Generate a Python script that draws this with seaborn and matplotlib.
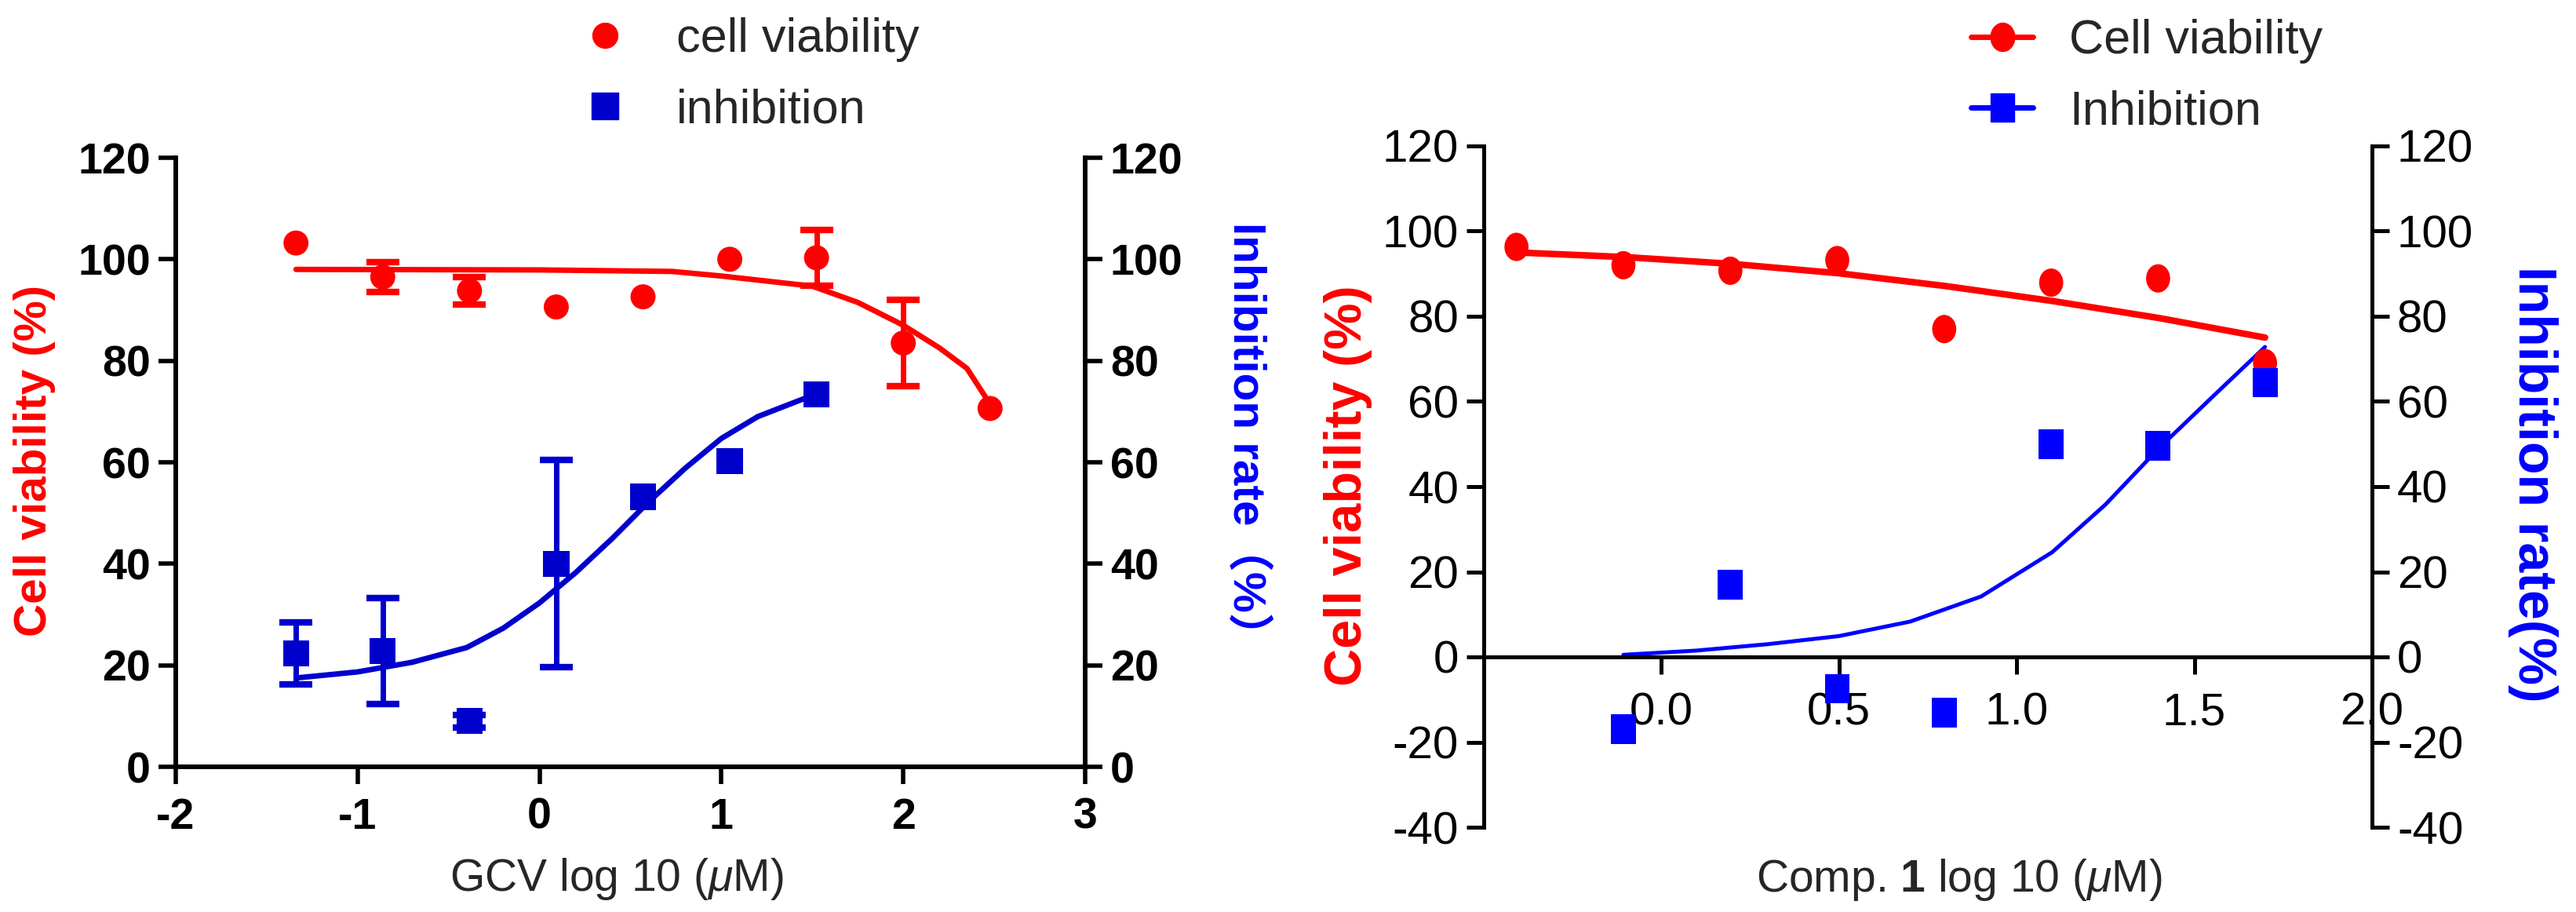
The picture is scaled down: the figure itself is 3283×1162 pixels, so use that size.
import matplotlib
matplotlib.use("Agg")
import matplotlib.pyplot as plt
from matplotlib.lines import Line2D
from matplotlib.markers import MarkerStyle
from matplotlib.transforms import Affine2D
import pandas as pd
import seaborn as sns

# ---- data: GCV panel (log10 uM) ----
gcv_x = [-1.339, -0.862, -0.385, 0.092, 0.569, 1.046, 1.523, 2.0, 2.477]
gcv_viab = [103.2, 96.5, 93.8, 90.6, 92.6, 100.0, 100.3, 83.5, 70.6]
gcv_viab_err = [0.0, 2.9, 2.7, 0.0, 0.0, 0.0, 5.5, 8.5, 0.0]
gcv_inh_x = [-1.339, -0.862, -0.385, 0.092, 0.569, 1.046, 1.523]
gcv_inh = [22.3, 22.8, 9.0, 40.0, 53.2, 60.2, 73.4]
gcv_inh_err = [6.1, 10.4, 1.2, 20.4, 0.0, 0.0, 0.0]

# fitted curves
gcv_viab_fit_x = [-1.339, 0.0, 0.73, 1.0, 1.25, 1.5, 1.75, 2.0, 2.2, 2.35, 2.48]
gcv_viab_fit = [98.0, 97.9, 97.6, 96.7, 95.7, 94.7, 91.5, 87.0, 82.5, 78.5, 71.3]
gcv_inh_fit_x = [-1.339, -1.0, -0.7, -0.4, -0.2, 0.0, 0.2, 0.4, 0.6, 0.8, 1.0, 1.2, 1.523]
gcv_inh_fit = [17.5, 18.7, 20.6, 23.5, 27.3, 32.3, 38.3, 45.0, 52.2, 58.8, 64.7, 69.0, 73.5]

# ---- data: compound 1 panel (log10 uM) ----
c1_x = [-0.408, -0.107, 0.194, 0.495, 0.796, 1.097, 1.398, 1.699]
c1_viab = [96.3, 92.0, 90.7, 93.2, 77.0, 87.9, 88.9, 69.0]
c1_inh_x = [-0.107, 0.194, 0.495, 0.796, 1.097, 1.398, 1.699]
c1_inh = [-17.0, 17.0, -7.5, -13.1, 50.0, 49.6, 64.4]

c1_viab_fit_x = [-0.408, -0.1, 0.2, 0.5, 0.8, 1.1, 1.4, 1.699]
c1_viab_fit = [95.0, 93.9, 92.3, 90.1, 87.1, 83.6, 79.6, 75.0]
c1_inh_fit_x = [-0.107, 0.1, 0.3, 0.5, 0.7, 0.9, 1.1, 1.25, 1.4, 1.55, 1.699]
c1_inh_fit = [0.5, 1.5, 3.0, 4.9, 8.3, 14.2, 24.6, 35.8, 49.0, 61.0, 72.8]

RED = "#ff0000"
BLUE_L = "#0000cc"
BLUE_R = "#0000ff"

sns.set_style("ticks")
plt.rcParams["font.family"] = ["Liberation Sans", "Noto Sans CJK SC", "DejaVu Sans"]
plt.rcParams["axes.unicode_minus"] = False
plt.rcParams["mathtext.fontset"] = "custom"
plt.rcParams["mathtext.rm"] = "Liberation Sans"
plt.rcParams["mathtext.it"] = "Liberation Sans:italic"
plt.rcParams["mathtext.bf"] = "Liberation Sans:bold"

W, H = 3283, 1162
fig = plt.figure(figsize=(W / 100, H / 100), dpi=100)


def frac_box(left, right, top, bottom):
    return [left / W, 1 - bottom / H, (right - left) / W, (bottom - top) / H]


def err_bars(ax, xs, ys, errs, color):
    # only points that carry an error bar in the source
    keep = [i for i, e in enumerate(errs) if e > 0]
    ax.errorbar([xs[i] for i in keep], [ys[i] for i in keep],
                yerr=[errs[i] for i in keep], fmt="none", ecolor=color,
                elinewidth=5, capsize=15, capthick=6, zorder=3)


# ================= left panel =================
ax1 = fig.add_axes(frac_box(224, 1383, 201, 977))
ax1r = ax1.twinx()

df_v = pd.DataFrame({"x": gcv_x, "y": gcv_viab})
df_i = pd.DataFrame({"x": gcv_inh_x, "y": gcv_inh})

err_bars(ax1, gcv_x, gcv_viab, gcv_viab_err, RED)
err_bars(ax1, gcv_inh_x, gcv_inh, gcv_inh_err, BLUE_L)
sns.lineplot(x=gcv_viab_fit_x, y=gcv_viab_fit, ax=ax1, color=RED, linewidth=5,
             sort=False, estimator=None, zorder=4)
sns.lineplot(x=gcv_inh_fit_x, y=gcv_inh_fit, ax=ax1, color=BLUE_L, linewidth=5,
             sort=False, estimator=None, zorder=4)
sns.scatterplot(data=df_v, x="x", y="y", ax=ax1, marker="o", s=23 ** 2,
                color=RED, edgecolor="none", linewidth=0, zorder=5)
sns.scatterplot(data=df_i, x="x", y="y", ax=ax1, marker="s", s=24 ** 2,
                color=BLUE_L, edgecolor="none", linewidth=0, zorder=5)

for a in (ax1, ax1r):
    a.set_ylim(0, 120)
    a.set_yticks(range(0, 121, 20))
    a.set_xlim(-2, 3)
    a.set_xlabel("")
    a.set_ylabel("")
    a.spines["top"].set_visible(False)
    for s in ("left", "right", "bottom"):
        a.spines[s].set_linewidth(4)
        a.spines[s].set_color("black")
    a.tick_params(axis="both", length=16, width=4, direction="out",
                  labelsize=40, colors="black")
    a.tick_params(axis="y", pad=7)
    a.tick_params(axis="x", pad=12)
ax1.set_xticks(range(-2, 4))
for lab in ax1.get_xticklabels() + ax1.get_yticklabels() + ax1r.get_yticklabels():
    lab.set_fontweight("bold")

fig.text(44 / W, 1 - 587 / H, "Cell viability (%)", rotation=90, color=RED,
         fontsize=42, fontweight="bold", ha="center", va="center")
fig.text(1589 / W, 1 - 561 / H, "Inhibition rate（%）", rotation=270, color=BLUE_R,
         fontsize=42, fontweight="bold", ha="center", va="center")
fig.text(786 / W, 1 - 1120 / H, r"GCV log 10 ($\mu$M)", fontsize=41,
         ha="center", va="center")

h_left = [Line2D([], [], marker="o", color=RED, linestyle="none", markersize=23),
          Line2D([], [], marker="s", color=BLUE_L, linestyle="none", markersize=24)]
fig.legend(h_left, ["cell viability", "inhibition"], loc="upper left",
           bbox_to_anchor=(740 / W, 1 - 22 / H), frameon=False, borderpad=0,
           borderaxespad=0, handlelength=1.0, handletextpad=1.0,
           labelspacing=0.55, fontsize=44)

# ================= right panel =================
ax2 = fig.add_axes(frac_box(1891, 3023, 186, 1054))
ax2r = ax2.twinx()

ell = MarkerStyle("o", transform=Affine2D().scale(0.85, 1.0))
tall_sq = MarkerStyle("s", transform=Affine2D().scale(0.85, 1.0))

df_v2 = pd.DataFrame({"x": c1_x, "y": c1_viab})
df_i2 = pd.DataFrame({"x": c1_inh_x, "y": c1_inh})

sns.lineplot(x=c1_viab_fit_x, y=c1_viab_fit, ax=ax2, color=RED, linewidth=6,
             sort=False, estimator=None, zorder=4)
sns.lineplot(x=c1_inh_fit_x, y=c1_inh_fit, ax=ax2, color=BLUE_R, linewidth=3.6,
             sort=False, estimator=None, zorder=4)
sns.scatterplot(data=df_v2, x="x", y="y", ax=ax2, marker=ell, s=26 ** 2,
                color=RED, edgecolor="none", linewidth=0, zorder=5)
sns.scatterplot(data=df_i2, x="x", y="y", ax=ax2, marker=tall_sq, s=27 ** 2,
                color=BLUE_R, edgecolor="none", linewidth=0, zorder=6)

for a in (ax2, ax2r):
    a.set_ylim(-40, 120)
    a.set_yticks(range(-40, 121, 20))
    a.set_xlim(-0.5, 2.0)
    a.set_xlabel("")
    a.set_ylabel("")
    a.spines["top"].set_visible(False)
    a.spines["bottom"].set_position(("data", 0))
    for s in ("left", "right", "bottom"):
        a.spines[s].set_linewidth(3.6)
        a.spines[s].set_color("black")
    a.tick_params(axis="both", length=16, width=3.6, direction="out",
                  labelsize=42, colors="black")
    a.tick_params(axis="y", pad=7)
    a.tick_params(axis="x", pad=16)
ax2.set_xticks([0.0, 0.5, 1.0, 1.5, 2.0])
ax2.set_xticklabels(["0.0", "0.5", "1.0", "1.5", "2.0"])

fig.text(1718 / W, 1 - 619 / H, "Cell viability (%)", rotation=90, color=RED,
         fontsize=48, fontweight="bold", ha="center", va="center")
fig.text(3228 / W, 1 - 617 / H, "Inhibition rate(%)", rotation=270, color=BLUE_R,
         fontsize=49, fontweight="bold", ha="center", va="center")
fig.text(2497 / W, 1 - 1121 / H, r"Comp. $\mathbf{1}$ log 10 ($\mu$M)",
         fontsize=41, ha="center", va="center")

h_right = [Line2D([], [], marker=ell, color=RED, linewidth=5, markersize=26),
           Line2D([], [], marker=tall_sq, color=BLUE_R, linewidth=5, markersize=26)]
fig.legend(h_right, ["Cell viability", "Inhibition"], loc="upper left",
           bbox_to_anchor=(2512 / W, 1 - 24 / H), frameon=False, borderpad=0,
           borderaxespad=0, handlelength=1.3, handletextpad=0.75,
           labelspacing=0.55, fontsize=44)

fig.savefig("out.png", dpi=100, facecolor="white")
